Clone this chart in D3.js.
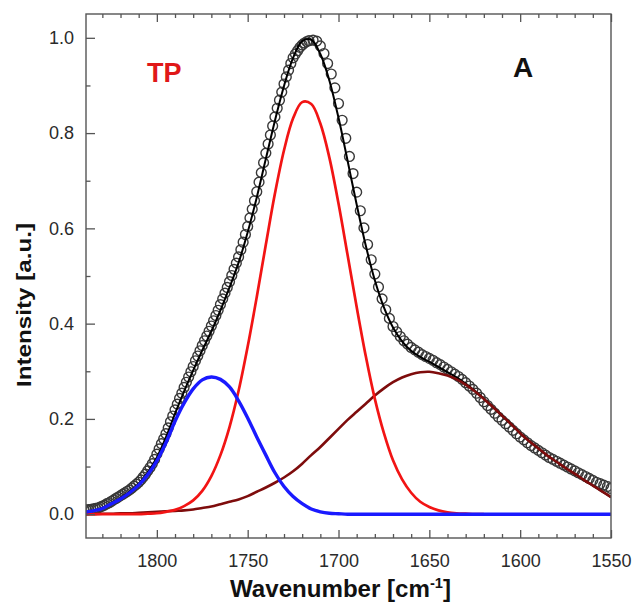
<!DOCTYPE html>
<html>
<head>
<meta charset="utf-8">
<script src="https://cdn.jsdelivr.net/npm/d3@7"></script>
<style>
  body { margin: 0; background: #fff; }
  svg { display: block; font-family: "Liberation Sans", Arial, sans-serif; }
</style>
</head>
<body>
<svg width="634" height="604"></svg>
<script>
// wavenumber grid for the fitted curves [cm-1]
var lineWn = [1840,1835,1830,1825,1820,1815,1810,1805,1800,1795,1790,1785,1780,1775,1770,1765,1760,1755,1750,1745,
              1740,1735,1730,1725,1720,1715,1710,1705,1700,1695,1690,1685,1680,1675,1670,1665,1660,1655,1650,1645,
              1640,1635,1630,1625,1620,1615,1610,1605,1600,1595,1590,1585,1580,1575,1570,1565,1560,1555,1550];

// total fit (black)
var fitI = [0.004,0.007,0.013,0.023,0.034,0.047,0.064,0.088,0.119,0.161,0.211,0.258,0.302,0.344,0.384,0.428,0.476,0.528,0.592,0.665,
            0.746,0.826,0.899,0.958,0.993,0.996,0.966,0.910,0.832,0.742,0.650,0.564,0.491,0.434,0.392,0.363,0.343,0.330,0.320,0.309,
            0.298,0.287,0.274,0.259,0.243,0.225,0.207,0.189,0.170,0.153,0.138,0.123,0.110,0.097,0.085,0.072,0.060,0.048,0.036];

// component bands
var blueI = [0.004,0.007,0.012,0.022,0.032,0.045,0.061,0.083,0.112,0.150,0.195,0.233,0.263,0.282,0.288,0.283,0.267,0.238,0.202,0.162,
             0.124,0.087,0.058,0.037,0.022,0.011,0.005,0.002,0.001,0,0,0,0,0,0,0,0,0,0,0,
             0,0,0,0,0,0,0,0,0,0,0,0,0,0,0,0,0,0,0];
var redI = [0,0,0,0,0,0,0,0.001,0.002,0.005,0.009,0.017,0.029,0.049,0.080,0.124,0.183,0.259,0.352,0.456,
            0.566,0.673,0.764,0.831,0.865,0.861,0.820,0.748,0.652,0.544,0.435,0.332,0.242,0.170,0.113,0.073,0.045,0.026,0.015,0.008,
            0.004,0.002,0.001,0,0];
var maroonI = [0,0,0.001,0.001,0.002,0.002,0.003,0.004,0.005,0.006,0.007,0.008,0.010,0.013,0.016,0.021,0.026,0.031,0.038,0.047,
               0.056,0.066,0.077,0.090,0.106,0.124,0.141,0.160,0.179,0.198,0.215,0.232,0.249,0.264,0.277,0.287,0.294,0.298,0.299,0.296,
               0.291,0.283,0.272,0.258,0.242,0.225,0.207,0.189,0.170,0.153,0.138,0.123,0.110,0.097,0.085,0.072,0.060,0.048,0.036];

// measured spectrum (open circles)
var pointWn = d3.range(1840, 1716, -1.25).concat(d3.range(1714, 1549, -2));
var pointI = [
  0.008,0.009,0.0095,0.010,0.011,0.012,0.013,0.015,0.017,0.019,0.022,0.024,0.027,0.030,0.033,0.036,0.039,0.042,0.045,0.048,
  0.051,0.055,0.059,0.063,0.067,0.072,0.078,0.084,0.091,0.098,0.106,0.115,0.126,0.137,0.148,0.158,0.169,0.181,0.194,0.206,
  0.219,0.231,0.243,0.254,0.266,0.277,0.288,0.299,0.310,0.322,0.332,0.343,0.354,0.364,0.374,0.384,0.395,0.406,0.417,0.428,
  0.440,0.452,0.464,0.476,0.488,0.501,0.514,0.527,0.540,0.555,0.571,0.587,0.604,0.622,0.640,0.658,0.677,0.697,0.717,0.738,
  0.758,0.777,0.796,0.815,0.834,0.852,0.869,0.886,0.903,0.918,0.932,0.946,0.958,0.966,0.973,0.980,0.985,0.989,0.992,0.994,
  0.995,0.993,0.983,0.967,0.946,0.924,0.895,0.862,0.827,0.789,0.751,0.715,0.676,0.637,0.601,0.566,0.534,0.504,0.477,0.452,
  0.429,0.411,0.394,0.383,0.373,0.364,0.357,0.350,0.345,0.340,0.335,0.331,0.327,0.323,0.318,0.314,0.309,0.304,0.299,0.294,
  0.289,0.283,0.276,0.269,0.262,0.254,0.245,0.236,0.228,0.220,0.212,0.204,0.197,0.190,0.183,0.176,0.169,0.162,0.156,0.150,
  0.144,0.139,0.134,0.129,0.124,0.119,0.115,0.111,0.107,0.103,0.099,0.095,0.091,0.087,0.083,0.079,0.075,0.071,0.067,0.064,
  0.061,0.058,0.054];

var xMajor = [1800, 1750, 1700, 1650, 1600, 1550];
var xMinor = [1830, 1820, 1810, 1790, 1780, 1770, 1760, 1740, 1730, 1720, 1710, 1690, 1680, 1670, 1660,
              1640, 1630, 1620, 1610, 1590, 1580, 1570, 1560];
var yMajor = [0.0, 0.2, 0.4, 0.6, 0.8, 1.0];
var yMinor = [0.1, 0.3, 0.5, 0.7, 0.9];

var plotL = 86, plotR = 611, plotT = 14, plotB = 538;
var svg = d3.select("svg");

var x = d3.scaleLinear().domain([1839, 1550]).range([plotL, plotR]);
var y = d3.scaleLinear().domain([-0.05, 1.05]).range([plotB, plotT]);

svg.append("defs").append("clipPath").attr("id", "plotclip")
   .append("rect").attr("x", plotL).attr("y", plotT)
   .attr("width", plotR - plotL).attr("height", plotB - plotT);

var plot = svg.append("g").attr("clip-path", "url(#plotclip)");

function curve(wn, vals) {
  return wn.slice(0, vals.length).map((w, i) => ({ w: w, v: vals[i] }));
}
var line = d3.line().x(d => x(d.w)).y(d => y(d.v)).curve(d3.curveCatmullRom.alpha(0.5));

// measured points
plot.append("g")
  .selectAll("circle")
  .data(curve(pointWn, pointI))
  .enter()
  .append("circle")
    .attr("cx", d => x(d.w))
    .attr("cy", d => y(d.v))
    .attr("r", 4.9)
    .attr("fill", "none")
    .attr("stroke", "#383838")
    .attr("stroke-width", 1.4);

plot.append("path").datum(curve(lineWn, fitI))
    .attr("d", line).attr("fill", "none").attr("stroke", "#000").attr("stroke-width", 2);
plot.append("path").datum(curve(lineWn, maroonI))
    .attr("d", line).attr("fill", "none").attr("stroke", "#7e0c0c").attr("stroke-width", 2.6);
plot.append("path").datum(curve(lineWn, redI))
    .attr("d", line).attr("fill", "none").attr("stroke", "#f21414").attr("stroke-width", 2.7);
plot.append("path").datum(curve(lineWn, blueI))
    .attr("d", line).attr("fill", "none").attr("stroke", "#1a1aff").attr("stroke-width", 3.4);

// axes, ticks pointing inwards
var axisCol = "#555";
function styleAxis(g) {
  g.select(".domain").remove();
  g.selectAll(".tick line").attr("stroke", axisCol).attr("stroke-width", 1.3);
  g.selectAll(".tick text").attr("fill", "#2a2a2a");
}

svg.append("g").attr("transform", `translate(0,${plotB})`)
  .call(d3.axisBottom(x).tickValues(xMajor).tickSizeInner(-8).tickSizeOuter(0).tickPadding(16).tickFormat(d3.format("d")))
  .call(styleAxis)
  .call(g => g.selectAll(".tick text").attr("font-size", 18).attr("font-family", "Liberation Sans, Arial, sans-serif"));
svg.append("g").attr("transform", `translate(0,${plotB})`)
  .call(d3.axisBottom(x).tickValues(xMinor).tickSizeInner(-4).tickSizeOuter(0).tickFormat(""))
  .call(styleAxis);
svg.append("g").attr("transform", `translate(0,${plotT})`)
  .call(d3.axisTop(x).tickValues(xMajor).tickSizeInner(-8).tickSizeOuter(0).tickFormat(""))
  .call(styleAxis);
svg.append("g").attr("transform", `translate(0,${plotT})`)
  .call(d3.axisTop(x).tickValues(xMinor).tickSizeInner(-4).tickSizeOuter(0).tickFormat(""))
  .call(styleAxis);

svg.append("g").attr("transform", `translate(${plotL},0)`)
  .call(d3.axisLeft(y).tickValues(yMajor).tickSizeInner(-9).tickSizeOuter(0).tickPadding(12).tickFormat(d3.format(".1f")))
  .call(styleAxis)
  .call(g => g.selectAll(".tick text").attr("font-size", 18).attr("font-family", "Liberation Sans, Arial, sans-serif"));
svg.append("g").attr("transform", `translate(${plotL},0)`)
  .call(d3.axisLeft(y).tickValues(yMinor).tickSizeInner(-4.5).tickSizeOuter(0).tickFormat(""))
  .call(styleAxis);

svg.append("rect")
  .attr("x", plotL).attr("y", plotT)
  .attr("width", plotR - plotL).attr("height", plotB - plotT)
  .attr("fill", "none").attr("stroke", axisCol).attr("stroke-width", 1.4);

// titles
svg.append("text")
  .attr("x", (230 + 451) / 2).attr("y", 597)
  .attr("text-anchor", "middle")
  .attr("font-size", 23).attr("font-weight", "bold").attr("fill", "#111")
  .attr("textLength", 221).attr("lengthAdjust", "spacingAndGlyphs")
  .html('Wavenumber [cm<tspan dy="-9" font-size="14">-1</tspan><tspan dy="9">]</tspan>');

svg.append("text")
  .attr("transform", "translate(31,305) rotate(-90)")
  .attr("text-anchor", "middle")
  .attr("font-size", 21).attr("font-weight", "bold").attr("fill", "#111")
  .attr("textLength", 164).attr("lengthAdjust", "spacingAndGlyphs")
  .text("Intensity [a.u.]");

svg.append("text")
  .attr("x", 147).attr("y", 82)
  .attr("font-size", 27).attr("font-weight", "bold").attr("fill", "#e01818")
  .text("TP");

svg.append("text")
  .attr("x", 513).attr("y", 77)
  .attr("font-size", 28).attr("font-weight", "bold").attr("fill", "#111")
  .text("A");
</script>
</body>
</html>
